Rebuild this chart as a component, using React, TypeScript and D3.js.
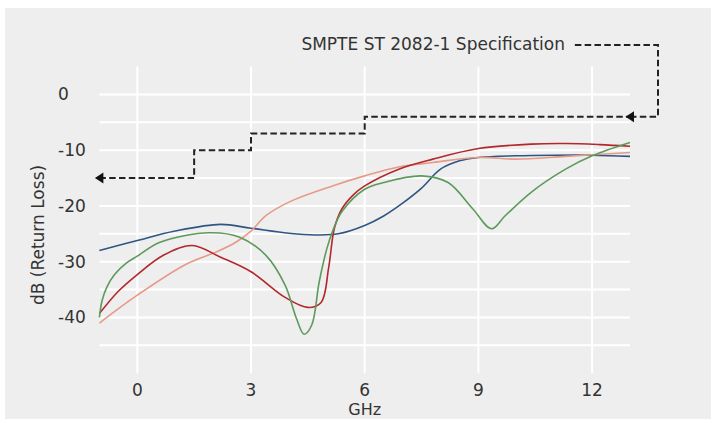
import React, { useEffect, useRef } from 'react'
import * as d3 from 'd3'

// frequency (GHz) / return loss (dB)
const blueSeries: [number, number][] = [
  [-1, -28], [0, -26.2], [1, -24.5], [2.2, -23.3], [3, -24], [4, -24.9],
  [4.7, -25.2], [5.3, -25], [6, -23.5], [6.5, -21.8], [7, -19.5], [7.5, -16.8],
  [8, -13.4], [8.5, -11.9], [9, -11.3], [10, -11], [11, -10.9], [12, -10.9], [13, -11.1],
]
const redSeries: [number, number][] = [
  [-1, -39.3], [-0.5, -35.3], [0, -32.3], [0.7, -28.8], [1.45, -27.1], [2.2, -29.2],
  [3, -31.8], [3.9, -36.4], [4.5, -38.2], [4.85, -37.3], [5.05, -31], [5.2, -24],
  [5.4, -20.5], [5.7, -18], [6, -16.4], [6.9, -13.4], [7.8, -11.6], [9, -9.7],
  [10.4, -8.9], [11.3, -8.8], [12.2, -9], [13, -9.3],
]
const salmonSeries: [number, number][] = [
  [-1, -41], [0, -36], [1.3, -30.4], [2.1, -28.2], [2.6, -26.5], [3, -24.5],
  [3.4, -21.7], [4.1, -19], [5.15, -16.4], [6, -14.6], [6.9, -13], [7.8, -12.2],
  [9, -11.3], [10, -11.6], [11.3, -11.1], [13, -10.4],
]
const greenSeries: [number, number][] = [
  [-1, -40], [-0.93, -37], [-0.8, -34.5], [-0.6, -32.3], [-0.3, -30.3], [0, -29],
  [0.6, -26.5], [1.9, -24.8],
  [2.7, -25.6], [3.4, -28.9], [3.9, -34.2], [4.2, -40.2], [4.4, -43], [4.6, -41.4],
  [4.8, -33.6], [5.0, -27.7], [5.15, -24.6], [5.4, -21], [6, -17], [6.5, -15.8],
  [7.5, -14.6], [8.2, -15.8], [8.85, -20.5], [9.35, -24.1], [9.7, -21.8],
  [10.4, -17.5], [11.3, -13.4], [12, -11], [13, -8.6],
]

// SMPTE ST 2082-1 limit: step starts
const specFreq = [-1, 1.5, 3, 6, 13]
const specLimit = [-15, -10, -7, -4, -4]

const xTicks = [0, 3, 6, 9, 12]
const yTicks = [0, -10, -20, -30, -40]
const yGrid = [0, -5, -10, -15, -20, -25, -30, -35, -40, -45]

const series = [
  { data: blueSeries, color: '#2f5683' },
  { data: salmonSeries, color: '#e69a88' },
  { data: redSeries, color: '#b2282c' },
  { data: greenSeries, color: '#5d9a5b' },
]

const FONT = "'DejaVu Sans', Verdana, sans-serif"

const App = () => {
  const svgRef = useRef(null)

  useEffect(() => {
    const svg = d3.select(svgRef.current)
    svg.selectAll('*').remove()

    const x = d3.scaleLinear().domain([-1, 13]).range([99.4, 630])
    const y = d3.scaleLinear().domain([5, -50]).range([66.6, 373.2])

    // panel background
    svg.append('rect').attr('x', 5).attr('y', 8).attr('width', 706).attr('height', 411).attr('fill', '#eeeeee')

    // grid
    svg
      .selectAll('.hgrid')
      .data(yGrid)
      .join('line')
      .attr('class', 'hgrid')
      .attr('x1', x(-1))
      .attr('x2', x(13))
      .attr('y1', (d) => y(d))
      .attr('y2', (d) => y(d))
      .attr('stroke', '#fff')
      .attr('stroke-width', 2)

    svg
      .selectAll('.vgrid')
      .data(xTicks)
      .join('line')
      .attr('class', 'vgrid')
      .attr('x1', (d) => x(d))
      .attr('x2', (d) => x(d))
      .attr('y1', y(5))
      .attr('y2', y(-50))
      .attr('stroke', '#fff')
      .attr('stroke-width', 2)

    // tick labels
    svg
      .selectAll('.ylab')
      .data(yTicks)
      .join('text')
      .attr('class', 'ylab')
      .attr('x', 58)
      .attr('y', (d) => y(d) + 6)
      .text((d) => d)
      .style('font-family', FONT)
      .style('font-size', '17px')
      .attr('fill', '#333')

    svg
      .selectAll('.xlab')
      .data(xTicks)
      .join('text')
      .attr('class', 'xlab')
      .attr('x', (d) => x(d))
      .attr('y', 396)
      .attr('text-anchor', 'middle')
      .text((d) => d)
      .style('font-family', FONT)
      .style('font-size', '17px')
      .attr('fill', '#333')

    svg
      .append('text')
      .attr('x', x(6))
      .attr('y', 415)
      .attr('text-anchor', 'middle')
      .text('GHz')
      .style('font-family', FONT)
      .style('font-size', '16px')
      .attr('fill', '#333')

    svg
      .append('text')
      .attr('transform', 'translate(44,235) rotate(-90)')
      .attr('text-anchor', 'middle')
      .text('dB (Return Loss)')
      .style('font-family', FONT)
      .style('font-size', '17px')
      .attr('fill', '#333')

    // measured curves
    const line = d3
      .line<[number, number]>()
      .x((d) => x(d[0]))
      .y((d) => y(d[1]))
      .curve(d3.curveCatmullRom.alpha(0.5))

    svg
      .selectAll('.curve')
      .data(series)
      .join('path')
      .attr('class', 'curve')
      .attr('d', (d) => line(d.data))
      .attr('fill', 'none')
      .attr('stroke', (d) => d.color)
      .attr('stroke-width', 1.6)

    // spec step line
    const specLine = d3
      .line<number>()
      .x((d) => x(d))
      .y((_, i) => y(specLimit[i]))
      .curve(d3.curveStepAfter)

    svg
      .append('path')
      .attr('d', specLine(specFreq))
      .attr('fill', 'none')
      .attr('stroke', '#222')
      .attr('stroke-width', 2)
      .attr('stroke-dasharray', '6.5,3.3')

    // connector from the label down to the last step
    const xEnd = x(13)
    const yEnd = y(-4)
    svg
      .append('path')
      .attr('d', `M${xEnd},${yEnd}H658V45H572`)
      .attr('fill', 'none')
      .attr('stroke', '#222')
      .attr('stroke-width', 2)
      .attr('stroke-dasharray', '6.5,3.3')

    svg
      .append('text')
      .attr('x', 565)
      .attr('y', 50)
      .attr('text-anchor', 'end')
      .text('SMPTE ST 2082-1 Specification')
      .style('font-family', FONT)
      .style('font-size', '17px')
      .attr('fill', '#333')

    // arrow heads at both ends of the spec line
    const arrows = [
      [specFreq[0], specLimit[0]],
      [specFreq[specFreq.length - 1], specLimit[specLimit.length - 1]],
    ]
    svg
      .selectAll('.arrow')
      .data(arrows)
      .join('path')
      .attr('class', 'arrow')
      .attr('d', (d) => {
        const cx = x(d[0])
        const cy = y(d[1])
        return `M${cx - 4.5},${cy}L${cx + 4},${cy - 5.5}L${cx + 4},${cy + 5.5}Z`
      })
      .attr('fill', '#111')
  }, [])

  return (
    <svg
      ref={svgRef}
      width={715}
      height={423}
      style={{ position: 'absolute', left: 0, top: 0, background: '#fff' }}
    />
  )
}

export default App
